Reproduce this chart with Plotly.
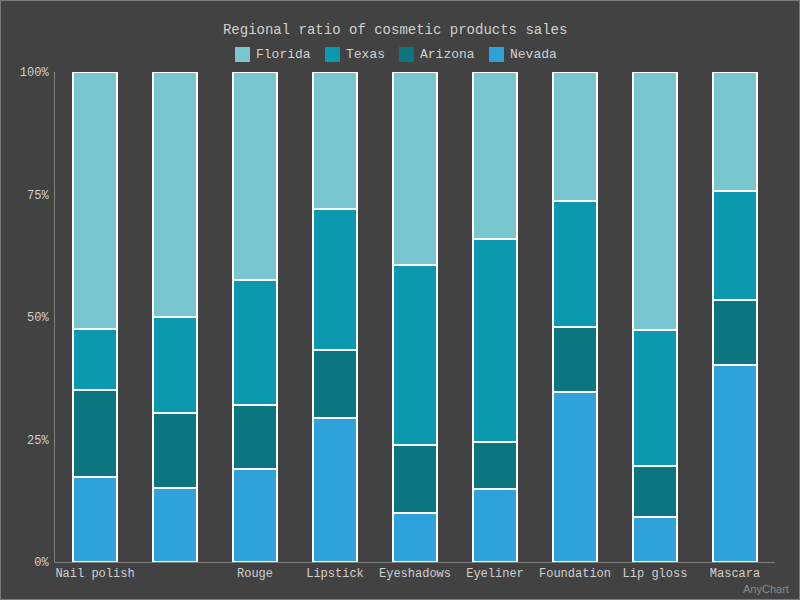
import plotly.graph_objects as go

categories = ["Nail polish", "Eyebrow pencil", "Rouge", "Lipstick", "Eyeshadows",
              "Eyeliner", "Foundation", "Lip gloss", "Mascara"]
tick_labels = ["Nail polish", "", "Rouge", "Lipstick", "Eyeshadows",
               "Eyeliner", "Foundation", "Lip gloss", "Mascara"]
nevada = [17.3, 15.1, 19.0, 29.4, 10.0, 14.9, 34.7, 9.2, 40.2]
arizona = [17.8, 15.3, 13.0, 13.9, 13.9, 9.6, 13.3, 10.4, 13.3]
texas = [12.5, 19.6, 25.6, 28.7, 36.7, 41.4, 25.7, 27.7, 22.2]
florida = [52.4, 50.0, 42.4, 28.0, 39.4, 34.1, 26.3, 52.7, 24.3]
y_ticks = [0, 25, 50, 75, 100]
y_tick_labels = ["0%", "25%", "50%", "75%", "100%"]

series = [("Florida", florida, "#78c6d0"),
          ("Texas", texas, "#0a99ae"),
          ("Arizona", arizona, "#0c7680"),
          ("Nevada", nevada, "#2ea2da")]

font_family = "Liberation Mono, DejaVu Sans Mono, monospace"
text_color = "#d0d0d0"

L, R, T, B = 55, 25, 72, 38
PW, PH = 800 - L - R, 600 - T - B


def px(x):
    return (x - L) / PW


def py(y):
    return (600 - B - y) / PH


fig = go.Figure()
for name, vals, col in reversed(series):
    fig.add_trace(go.Bar(
        x=categories, y=vals, name=name, showlegend=False,
        marker=dict(color=col, line=dict(color="#ffffff", width=2)),
    ))

# manual legend (AnyChart style)
legend_x = [235, 325, 399, 489]
for (name, vals, col), lx in zip(series, legend_x):
    fig.add_shape(type="rect", xref="paper", yref="paper",
                  x0=px(lx), x1=px(lx + 15), y0=py(62), y1=py(47),
                  fillcolor=col, line=dict(width=0))
    fig.add_annotation(text=name, xref="paper", yref="paper",
                       x=px(lx + 19), y=py(54.5), xanchor="left", yanchor="middle",
                       showarrow=False, font=dict(size=13, color=text_color))

fig.update_layout(
    width=800, height=600,
    barmode="stack", barnorm="percent", bargap=0.45,
    paper_bgcolor="#424242", plot_bgcolor="#424242",
    margin=dict(l=L, r=R, t=T, b=B),
    font=dict(family=font_family, color=text_color, size=12),
    showlegend=False,
    title=dict(text="Regional ratio of cosmetic products sales",
               x=0.494, xanchor="center", y=0.952, yanchor="middle",
               font=dict(size=14, color=text_color, family=font_family)),
    xaxis=dict(tickmode="array", tickvals=categories, ticktext=tick_labels,
               showgrid=False, showline=True, linecolor="#7f7f7f", linewidth=1,
               ticks="", tickfont=dict(size=12, color=text_color), zeroline=False),
    yaxis=dict(range=[0, 100], tickmode="array", tickvals=y_ticks, ticktext=y_tick_labels,
               showgrid=False, showline=True, linecolor="#7f7f7f", linewidth=1,
               ticks="", ticklabelstandoff=3,
               tickfont=dict(size=12, color=text_color), zeroline=False),
    annotations=list(fig.layout.annotations) + [
        dict(text="AnyChart", xref="paper", yref="paper", x=px(791), y=py(588.5),
             xanchor="right", yanchor="middle", showarrow=False,
             font=dict(family="Liberation Sans, Arial", size=11, color="#8a8a8a"))],
)
# outer border of the chart
fig.add_shape(type="rect", xref="paper", yref="paper",
              x0=px(0), x1=px(800), y0=py(600), y1=py(0),
              line=dict(color="#7a7a7a", width=2), layer="below")
fig.write_html("out.html")
